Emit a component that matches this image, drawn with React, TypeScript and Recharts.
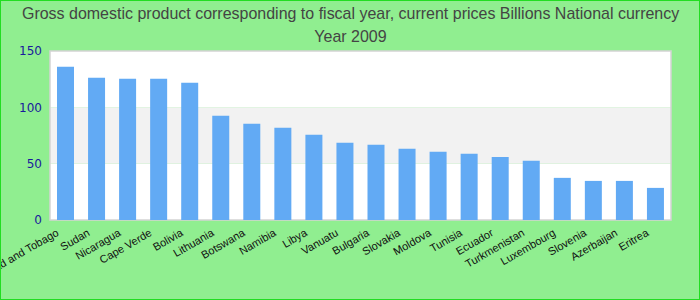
import { BarChart, Bar, XAxis, YAxis, ReferenceArea } from 'recharts';

const countries = [
  'Trinidad and Tobago', 'Sudan', 'Nicaragua', 'Cape Verde', 'Bolivia',
  'Lithuania', 'Botswana', 'Namibia', 'Libya', 'Vanuatu',
  'Bulgaria', 'Slovakia', 'Moldova', 'Tunisia', 'Ecuador',
  'Turkmenistan', 'Luxembourg', 'Slovenia', 'Azerbaijan', 'Eritrea',
];
const gdp = [
  136, 126.3, 125.4, 125.4, 121.9,
  92.5, 85.4, 81.9, 75.6, 68.5,
  66.7, 63.2, 60.5, 58.7, 56,
  52.5, 37.4, 34.7, 34.7, 28.5,
];
const yTicks = [0, 50, 100, 150];

const data = countries.map((name, i) => ({ name, value: gdp[i] }));

const CountryTick = ({ x, y, payload }: any) => (
  <g transform={`translate(${x - 6},${y + 7})`}>
    <text
      textAnchor="end"
      transform="rotate(-30)"
      fontSize={11}
      fontFamily="'Liberation Sans', Arial, sans-serif"
      fill="#111"
    >
      {payload.value}
    </text>
  </g>
);

export default function App() {
  return (
    <div
      style={{
        position: 'fixed',
        left: 0,
        top: 0,
        width: 700,
        height: 300,
        background: '#90ee90',
        border: '1px solid #22dd22',
        boxSizing: 'border-box',
        overflow: 'hidden',
      }}
    >
      <div
        style={{
          position: 'absolute',
          left: 0,
          top: 1,
          width: 698,
          textAlign: 'center',
          fontFamily: "'Liberation Sans', Arial, sans-serif",
          fontSize: 17,
          lineHeight: '23px',
          color: '#444',
        }}
      >
        <span style={{ display: 'inline-block', transform: 'scaleX(0.94)', whiteSpace: 'nowrap' }}>
          Gross domestic product corresponding to fiscal year, current prices Billions National currency
        </span>
        <br />
        <span style={{ display: 'inline-block', transform: 'scaleX(0.94)' }}>Year 2009</span>
      </div>
      <BarChart
        width={700}
        height={300}
        data={data}
        margin={{ top: 51, right: 29, left: -1, bottom: 50 }}
        style={{ position: 'absolute', left: -1, top: -1 }}
      >
        <ReferenceArea y1={0} y2={50} fill="#ffffff" fillOpacity={1} />
        <ReferenceArea y1={50} y2={100} fill="#f2f2f2" fillOpacity={1} />
        <ReferenceArea y1={100} y2={150} fill="#ffffff" fillOpacity={1} />
        <ReferenceArea y1={0} y2={150} fill="none" stroke="#d4d4d4" strokeWidth={1.5} />
        <XAxis
          dataKey="name"
          height={30}
          interval={0}
          axisLine={false}
          tickLine={false}
          tick={<CountryTick />}
        />
        <YAxis
          width={51}
          domain={[0, 150]}
          ticks={yTicks}
          axisLine={false}
          tickLine={false}
          tick={{ fill: '#1a1a9c', fontSize: 12, fontFamily: "'DejaVu Sans', sans-serif" }}
        />
        <Bar dataKey="value" fill="#62aaf4" barSize={17} isAnimationActive={false} />
      </BarChart>
    </div>
  );
}
